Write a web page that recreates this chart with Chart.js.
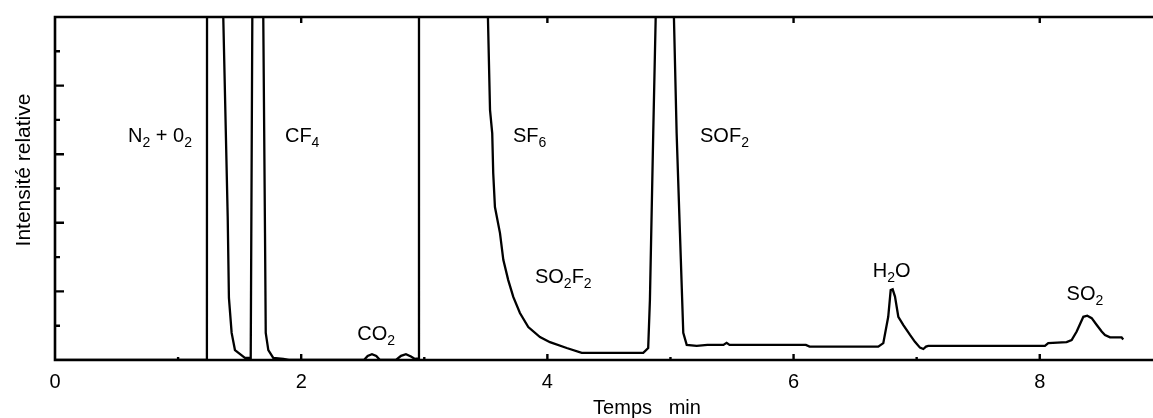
<!DOCTYPE html>
<html>
<head>
<meta charset="utf-8">
<script src="https://cdn.jsdelivr.net/npm/chart.js@4"></script>
<style>
  html, body { margin: 0; padding: 0; background: #fff; }
  #c { display: block; }
</style>
</head>
<body>
<canvas id="c" width="1153" height="418"></canvas>
<script>
// ---- data ----
const timeMin = [
  0, 1.234, 1.236, 1.36, 1.367, 1.403, 1.413, 1.435, 1.462, 1.543, 1.590, 1.603, 1.61, 1.69, 1.692, 1.706, 1.712, 1.733, 1.773, 1.855, 1.90,
  2.51, 2.54, 2.575, 2.61, 2.64, 2.77, 2.811, 2.851, 2.892, 2.924, 2.949, 2.957, 2.96,
  3.51, 3.517, 3.534, 3.552, 3.560, 3.574, 3.615, 3.642, 3.682, 3.723, 3.777, 3.845, 3.940, 4.021, 4.157, 4.279, 4.779, 4.819, 4.833, 4.860, 4.880, 4.89,
  5.02, 5.028, 5.050, 5.077, 5.104, 5.132, 5.213, 5.30, 5.43, 5.456, 5.48, 6.10, 6.13, 6.688, 6.729, 6.769, 6.789, 6.805, 6.824, 6.851, 6.892, 6.946, 6.986, 7.027, 7.054, 7.076, 7.094, 8.042, 8.069, 8.218, 8.259, 8.300, 8.354, 8.386, 8.422, 8.463, 8.503, 8.530, 8.571, 8.665, 8.678
];
const intensity = [
  0, 0, 200, 200, 100, 41.8, 18.1, 7.9, 2.9, 0.6, 0.6, 100, 200, 200, 100, 37, 7.9, 2.9, 0.6, 0.3, 0,
  0, 1.2, 1.7, 1.2, 0, 0, 1.2, 1.7, 1.0, 0.3, 0.5, 100, 200,
  200, 100, 72.9, 66.1, 54.5, 44.6, 37.0, 29.2, 23.3, 18.4, 13.7, 9.6, 6.7, 5.2, 3.5, 2.1, 2.1, 3.5, 17.5, 66.2, 100, 200,
  200, 100, 66.2, 37.0, 7.9, 4.4, 4.1, 4.4, 4.4, 5.0, 4.4, 4.4, 3.9, 3.9, 4.9, 12.6, 20.4, 20.6, 18.5, 12.6, 10.2, 7.3, 5.3, 3.6, 3.2, 3.9, 4.1, 4.1, 4.9, 5.2, 5.8, 8.3, 12.6, 12.9, 12.2, 10.2, 8.3, 7.3, 6.6, 6.6, 6.0
];
const xTickValues = [0, 2, 4, 6, 8];
const xMinorTicks = [1, 3, 5, 7];
const yMajorTicks = [20, 40, 60, 80];
const yMinorTicks = [10, 30, 50, 70, 90];
// peak labels ("_x" = subscript x) and their anchor (left, baseline) in data units
const peakNames = ['N_2 + 0_2', 'CF_4', 'CO_2', 'SF_6', 'SO_2F_2', 'SOF_2', 'H_2O', 'SO_2'];
const peakLabelTime = [0.593, 1.868, 2.456, 3.721, 3.899, 5.240, 6.643, 8.218];
const peakLabelIntensity = [63.6, 63.6, 5.8, 63.6, 22.4, 63.6, 24.1, 17.5];
const xTitle = 'Temps   min';
const yTitle = 'Intensité relative';

const FONT = '"Liberation Sans", Arial, sans-serif';

function drawRich(ctx, text, x, y, size) {
  let cx = x;
  let i = 0;
  while (i < text.length) {
    if (text[i] === '_' && i + 1 < text.length) {
      ctx.font = Math.round(size * 0.72) + 'px ' + FONT;
      ctx.fillText(text[i + 1], cx, y + 5);
      cx += ctx.measureText(text[i + 1]).width;
      i += 2;
    } else {
      ctx.font = size + 'px ' + FONT;
      ctx.fillText(text[i], cx, y);
      cx += ctx.measureText(text[i]).width;
      i += 1;
    }
  }
}

const decor = {
  id: 'decor',
  afterDraw(chart) {
    const ctx = chart.ctx;
    const a = chart.chartArea;
    const xs = chart.scales.x, ys = chart.scales.y;
    ctx.save();
    ctx.strokeStyle = '#000';
    ctx.lineCap = 'butt';
    // frame (left, bottom, top)
    ctx.lineWidth = 2.6;
    ctx.beginPath();
    ctx.moveTo(a.right, a.top); ctx.lineTo(a.left, a.top);
    ctx.lineTo(a.left, a.bottom); ctx.lineTo(a.right, a.bottom);
    ctx.stroke();
    // y ticks (inward)
    ctx.lineWidth = 2.4;
    ctx.beginPath();
    yMajorTicks.forEach(v => { const p = ys.getPixelForValue(v); ctx.moveTo(a.left, p); ctx.lineTo(a.left + 9, p); });
    yMinorTicks.forEach(v => { const p = ys.getPixelForValue(v); ctx.moveTo(a.left, p); ctx.lineTo(a.left + 5, p); });
    // x ticks bottom (inward) and top
    xTickValues.forEach(v => {
      if (v === 0) return;
      const p = xs.getPixelForValue(v);
      ctx.moveTo(p, a.bottom); ctx.lineTo(p, a.bottom - 6);
      ctx.moveTo(p, a.top); ctx.lineTo(p, a.top + 6);
    });
    xMinorTicks.forEach(v => {
      const p = xs.getPixelForValue(v);
      ctx.moveTo(p, a.bottom); ctx.lineTo(p, a.bottom - 3);
    });
    ctx.stroke();
    // peak labels
    ctx.fillStyle = '#000';
    ctx.textBaseline = 'alphabetic';
    ctx.textAlign = 'left';
    peakNames.forEach((n, i) => {
      drawRich(ctx, n, xs.getPixelForValue(peakLabelTime[i]), ys.getPixelForValue(peakLabelIntensity[i]), 20);
    });
    // axis titles
    ctx.font = '20px ' + FONT;
    ctx.textAlign = 'center';
    ctx.fillText(xTitle, 647, 414);
    ctx.save();
    ctx.translate(30, 170);
    ctx.rotate(-Math.PI / 2);
    ctx.font = '21px ' + FONT;
    ctx.textBaseline = 'alphabetic';
    ctx.fillText(yTitle, 0, 0);
    ctx.restore();
    ctx.restore();
  }
};

new Chart(document.getElementById('c'), {
  type: 'line',
  data: {
    datasets: [{
      data: timeMin.map((t, i) => ({ x: t, y: intensity[i] })),
      borderColor: '#000',
      borderWidth: 2.3,
      pointRadius: 0,
      tension: 0,
      fill: false
    }]
  },
  options: {
    responsive: false,
    animation: false,
    events: [],
    layout: { padding: { top: 17, left: 0, right: 0, bottom: 0 } },
    plugins: { legend: { display: false }, tooltip: { enabled: false }, title: { display: false } },
    scales: {
      x: {
        type: 'linear',
        min: 0,
        max: 8.92,
        grid: { display: false, drawTicks: false },
        border: { display: false },
        afterBuildTicks: (s) => { s.ticks = xTickValues.map(v => ({ value: v })); },
        afterFit: (s) => { s.height = 58; },
        ticks: {
          color: '#000',
          padding: 10,
          maxRotation: 0,
          font: { family: FONT, size: 20 },
          callback: (v) => String(v)
        }
      },
      y: {
        type: 'linear',
        min: 0,
        max: 100,
        grid: { display: false, drawTicks: false },
        border: { display: false },
        ticks: { display: false },
        afterFit: (s) => { s.width = 55; }
      }
    }
  },
  plugins: [decor]
});
</script>
</body>
</html>
